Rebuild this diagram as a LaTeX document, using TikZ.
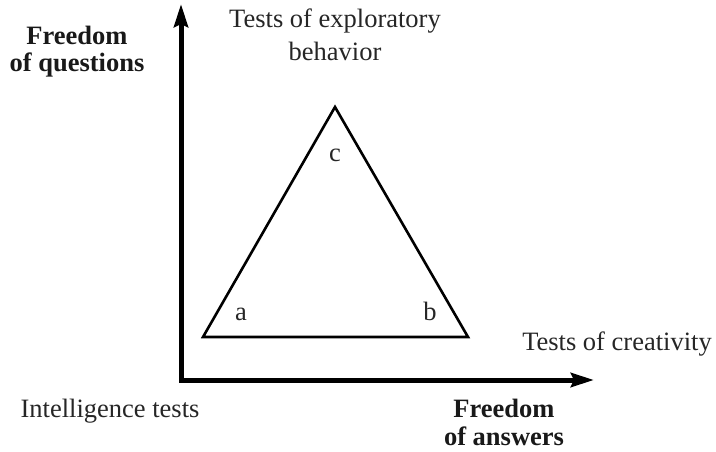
\documentclass[tikz,border=0pt]{standalone}
\usepackage{fontspec}
\setmainfont{Liberation Serif}
\usetikzlibrary{arrows.meta}
\begin{document}
\begin{tikzpicture}[x=1pt,y=-1pt,
  lbl/.style={font=\fontsize{26.5}{33}\selectfont, inner sep=0pt, align=center, text=black!85},
  boldlbl/.style={lbl, font=\fontsize{26.5}{27.5}\selectfont\bfseries, text=black!90},
  axis/.style={line width=5pt, line join=miter, -{Stealth[length=23pt,width=14pt,inset=3pt]}},
  tri/.style={line width=2.6pt, line join=miter}]
\useasboundingbox (0,0) rectangle (716,452);
\coordinate (o) at (181,380);
\coordinate (ytip) at (181,4);
\coordinate (xtip) at (594,380);
\draw[axis] (o) -- (ytip);
\draw[axis] (o) -- (xtip);
\fill (178.5,377.5) rectangle (183.5,382.5);
\coordinate (A) at (203,337);
\coordinate (B) at (468,337);
\coordinate (C) at (335,107);
\draw[tri] (A) -- (B) -- (C) -- cycle;
\node[lbl, anchor=base] (lc) at (335,161) {c};
\node[lbl, anchor=base] (la) at (241,320) {a};
\node[lbl, anchor=base] (lb) at (430,320) {b};
\node[boldlbl, anchor=base] (fq) at (77,72) {Freedom\\of questions};
\node[boldlbl, anchor=base] (fa) at (504,445) {Freedom\\of answers};
\node[lbl, anchor=base] (te) at (335,61) {Tests of exploratory\\behavior};
\node[lbl, anchor=base] (tc) at (617,350) {Tests of creativity};
\node[lbl, anchor=base] (it) at (110,417) {Intelligence tests};
\end{tikzpicture}
\end{document}
